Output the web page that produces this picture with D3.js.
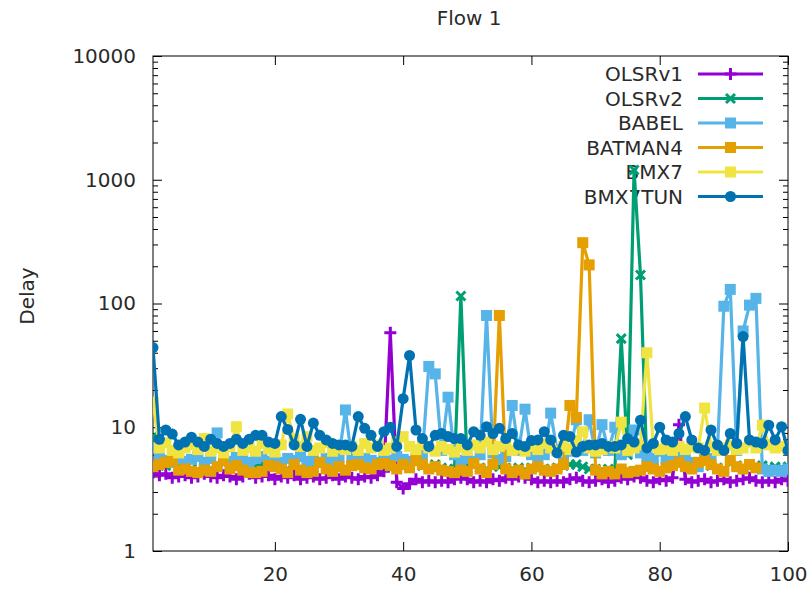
<!DOCTYPE html>
<html>
<head>
<meta charset="utf-8">
<script src="https://cdn.jsdelivr.net/npm/d3@7"></script>
<style>
  html, body { margin: 0; padding: 0; background: #fff; }
  svg text { font-family: "DejaVu Sans", sans-serif; fill: #2a2a2a; }
</style>
</head>
<body>
<svg id="chart" width="812" height="590"></svg>
<script>
// Per-sample delay for Flow 1, samples 1..100
const olsrv1 = [4.3,4.1,4.2,3.9,4.0,4.1,3.9,4.0,4.2,4.0,3.9,4.1,4.0,3.8,4.0,4.2,3.9,4.0,4.1,3.8,
  4.0,3.9,4.1,3.8,3.9,4.0,3.8,3.9,4.1,3.8,4.0,3.9,3.8,4.0,3.9,4.1,4.4,58,3.6,3.2,
  3.5,3.8,3.6,3.7,3.6,3.7,3.6,3.8,3.9,3.8,3.6,3.7,3.6,3.8,3.7,3.9,3.8,4.0,3.9,3.8,
  3.6,3.7,3.6,3.7,3.6,3.8,3.9,3.7,3.6,3.7,3.8,3.6,3.7,3.9,3.8,4.0,3.9,3.7,3.6,3.8,
  3.7,3.9,10.5,3.8,3.6,3.7,3.8,3.6,3.7,3.8,3.6,3.7,3.8,3.9,3.7,3.6,3.7,3.6,3.8,3.7];
const olsrv2 = [8.4,5.0,4.9,5.2,4.8,4.7,4.6,4.5,4.7,4.6,5.0,5.1,4.8,4.9,4.7,5.2,4.8,5.0,4.9,4.8,
  4.7,4.6,4.9,4.7,4.6,4.7,5.0,4.8,4.6,4.9,4.7,4.9,5.0,4.8,4.7,4.9,5.0,4.8,4.7,4.9,
  4.8,5.1,4.9,4.7,5.0,4.7,4.6,4.6,115,4.6,4.9,4.7,4.6,4.9,4.8,4.7,4.6,4.7,4.5,4.7,
  4.8,4.6,4.6,4.7,4.9,5.0,5.0,4.8,4.6,4.6,4.5,4.6,4.5,52,6.0,1200,170,4.8,4.7,4.6,
  4.8,4.9,5.0,4.9,4.7,5.0,5.2,4.9,4.7,4.6,5.1,4.9,4.7,4.9,4.8,4.9,4.7,4.8,4.7,4.8];
const babel = [6.8,5.8,5.4,5.2,5.6,5.3,5.5,5.8,5.2,5.6,9.0,5.5,5.3,5.7,5.4,5.2,5.6,5.8,5.3,5.5,
  5.2,5.6,5.4,5.8,5.3,5.5,5.2,5.6,5.4,5.8,13.8,5.5,5.3,5.6,5.4,5.2,5.6,5.4,5.8,5.5,
  5.3,5.6,6.0,31,27,6.5,17.5,6.0,5.4,5.6,5.3,6.0,80,6.2,5.5,5.8,15,6.5,14,6.0,
  5.6,6.0,13,6.5,5.8,6.4,11.5,6.5,11.5,6.2,10.5,6.5,10.0,6.0,6.4,9.5,6.2,5.8,5.6,6.4,
  5.5,5.8,6.2,5.6,5.2,4.8,5.5,5.6,6.5,95,130,6.5,60,97,110,4.6,4.4,4.5,4.4,4.6];
const batman4 = [4.8,5.0,5.2,5.4,4.5,4.6,4.4,4.3,4.5,4.4,4.8,5.4,4.6,4.9,4.5,4.3,4.3,4.4,4.9,4.8,
  4.6,4.3,5.0,4.5,4.3,4.4,5.2,4.6,4.4,4.8,4.5,4.9,5.0,4.7,4.6,5.0,5.1,4.9,4.6,5.0,
  4.7,5.4,5.0,4.6,4.8,4.5,4.4,4.3,4.5,4.4,5.1,4.6,4.3,5.0,80,4.6,4.3,4.5,4.2,4.6,
  4.8,4.5,4.4,4.6,5.0,15,12,310,205,4.5,4.2,4.4,4.2,4.6,4.3,4.4,4.5,4.8,4.6,4.4,
  4.7,4.9,5.2,4.8,4.6,5.2,5.4,5.0,4.6,4.4,5.4,4.8,4.6,5.0,4.7];
const bmx7 = [16,6.8,7.5,6.5,6.2,6.8,7.2,6.6,8.1,6.4,6.8,6.2,7.0,10.1,6.5,6.8,6.4,7.4,6.7,6.3,
  7.2,12.8,8.0,7.0,8.4,6.5,6.8,7.5,6.4,6.8,6.6,7.0,6.5,7.4,6.8,7.2,6.5,6.8,7.6,8.4,
  7.0,6.6,7.2,6.8,6.4,7.0,6.6,6.3,6.9,6.5,7.2,6.8,7.6,6.6,7.0,7.3,6.5,6.8,6.4,7.0,
  6.6,7.4,6.8,6.4,7.0,6.6,7.8,9.2,6.8,6.4,6.6,7.0,6.8,11,6.5,6.8,7.2,40,7.0,6.6,
  6.8,6.5,7.0,6.6,7.0,6.8,14.3,7.0,6.5,6.8,7.2,6.6,6.8,7.6,6.8,10.4,7.2,6.8,7.0,6.6];
const bmx7tun = [44,8.0,9.5,8.8,7.2,7.6,8.3,7.6,7.0,8.0,7.4,7.0,7.4,8.0,7.4,8.0,8.6,8.6,7.6,7.4,
  12.2,9.6,7.2,11.6,7.0,10.8,8.6,7.9,7.4,7.2,7.2,7.0,12.2,9.8,8.6,7.0,9.2,10,7.0,17,
  38,9.5,8.1,7.0,8.6,8.9,8.4,8.1,8.1,7.2,9.2,8.6,10.1,8.9,9.8,8.1,8.9,7.2,7.0,7.8,
  7.9,9.2,7.9,6.2,8.6,8.4,6.3,7.0,7.2,7.2,7.4,7.0,7.0,7.2,8.1,7.6,11.4,6.8,7.4,10,
  7.9,7.6,8.9,12.2,7.9,6.8,6.5,9.5,7.2,6.5,8.9,7.4,54,7.9,7.6,7.4,10.4,7.9,10.1,6.5];

const seriesNames = ["OLSRv1", "OLSRv2", "BABEL", "BATMAN4", "BMX7", "BMX7TUN"];
const seriesValues = [olsrv1, olsrv2, babel, batman4, bmx7, bmx7tun];
const seriesColors = ["#9400d3", "#009e73", "#56b4e9", "#e69f00", "#f0e442", "#0072b2"];
const seriesMarkers = ["plus", "cross", "square", "square", "square", "circle"];

const xTicks = [20, 40, 60, 80, 100];
const yTicks = [1, 10, 100, 1000, 10000];

const svg = d3.select("#chart");
const plotLeft = 153, plotRight = 788, plotTop = 56, plotBottom = 551;
const fontSize = 20;

const x = d3.scaleLinear().domain([1, 100]).range([plotLeft, plotRight]);
const y = d3.scaleLog().domain([1, 10000]).range([plotBottom, plotTop]);

const yMinor = [];
for (let d = 1; d < 10000; d *= 10) for (let k = 2; k <= 9; k++) yMinor.push(d * k);

// Titles
svg.append("text").attr("x", 469).attr("y", 25).attr("text-anchor", "middle")
  .attr("font-size", fontSize).text("Flow 1");
svg.append("text").attr("transform", "translate(34,296) rotate(-90)")
  .attr("text-anchor", "middle").attr("font-size", fontSize).text("Delay");

// Axes with inward ticks, mirrored on the top and right
function styleAxis(g) {
  g.select(".domain").remove();
  g.selectAll(".tick line").attr("stroke", "#000").attr("stroke-width", 1);
  g.selectAll(".tick text").attr("font-size", fontSize).attr("fill", "#2a2a2a")
    .attr("font-family", "DejaVu Sans, sans-serif");
}
svg.append("g").attr("transform", `translate(${plotLeft},0)`)
  .call(d3.axisLeft(y).tickValues(yTicks).tickFormat(d3.format("d")).tickSize(-9).tickPadding(17))
  .call(styleAxis);
svg.append("g").attr("transform", `translate(${plotLeft},0)`)
  .call(d3.axisLeft(y).tickValues(yMinor).tickFormat("").tickSize(-5)).call(styleAxis);
svg.append("g").attr("transform", `translate(${plotRight},0)`)
  .call(d3.axisRight(y).tickValues(yTicks).tickFormat("").tickSize(-9)).call(styleAxis);
svg.append("g").attr("transform", `translate(${plotRight},0)`)
  .call(d3.axisRight(y).tickValues(yMinor).tickFormat("").tickSize(-5)).call(styleAxis);
svg.append("g").attr("transform", `translate(0,${plotBottom})`)
  .call(d3.axisBottom(x).tickValues(xTicks).tickFormat(d3.format("d")).tickSize(-9).tickPadding(16))
  .call(styleAxis);
svg.append("g").attr("transform", `translate(0,${plotTop})`)
  .call(d3.axisTop(x).tickValues(xTicks).tickFormat("").tickSize(-9)).call(styleAxis);

svg.append("rect").attr("x", plotLeft).attr("y", plotTop)
  .attr("width", plotRight - plotLeft).attr("height", plotBottom - plotTop)
  .attr("fill", "none").attr("stroke", "#000").attr("stroke-width", 1);

svg.append("defs").append("clipPath").attr("id", "plotclip")
  .append("rect").attr("x", plotLeft).attr("y", plotTop)
  .attr("width", plotRight - plotLeft).attr("height", plotBottom - plotTop);

function drawMarker(g, kind, cx, cy, color) {
  if (kind === "plus") {
    g.append("path").attr("d", `M${cx - 6},${cy}H${cx + 6}M${cx},${cy - 6}V${cy + 6}`)
      .attr("stroke", color).attr("stroke-width", 3).attr("fill", "none");
  } else if (kind === "cross") {
    g.append("path").attr("d", `M${cx - 4.5},${cy - 4.5}L${cx + 4.5},${cy + 4.5}M${cx - 4.5},${cy + 4.5}L${cx + 4.5},${cy - 4.5}`)
      .attr("stroke", color).attr("stroke-width", 3).attr("fill", "none");
  } else if (kind === "square") {
    g.append("rect").attr("x", cx - 5.5).attr("y", cy - 5.5).attr("width", 11).attr("height", 11)
      .attr("fill", color);
  } else {
    g.append("circle").attr("cx", cx).attr("cy", cy).attr("r", 5.5).attr("fill", color);
  }
}

// Legend
const legend = svg.append("g");
seriesNames.forEach((name, i) => {
  const ly = 74 + i * 24.5;
  legend.append("text").attr("x", 683).attr("y", ly).attr("dy", "0.35em")
    .attr("text-anchor", "end").attr("font-size", fontSize).text(name);
  legend.append("line").attr("x1", 698).attr("x2", 763).attr("y1", ly).attr("y2", ly)
    .attr("stroke", seriesColors[i]).attr("stroke-width", 3);
  drawMarker(legend, seriesMarkers[i], 730.5, ly, seriesColors[i]);
});

// Series
const plot = svg.append("g").attr("clip-path", "url(#plotclip)");
const line = d3.line().x((d, i) => x(i + 1)).y(d => y(d));
seriesValues.forEach((vals, s) => {
  const g = plot.append("g");
  g.append("path").datum(vals).attr("d", line).attr("fill", "none")
    .attr("stroke", seriesColors[s]).attr("stroke-width", 3.2).attr("stroke-linejoin", "miter");
  vals.forEach((v, i) => drawMarker(g, seriesMarkers[s], x(i + 1), y(v), seriesColors[s]));
});
</script>
</body>
</html>
